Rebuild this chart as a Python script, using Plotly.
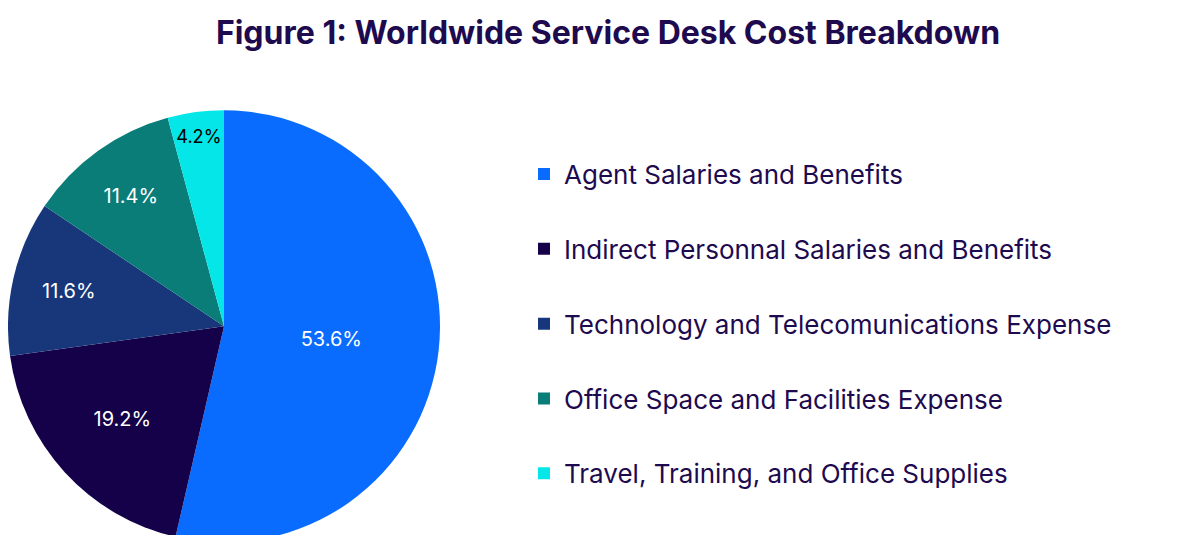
import plotly.graph_objects as go

# cost breakdown data
categories = ["Agent Salaries and Benefits",
              "Indirect Personnal Salaries and Benefits",
              "Technology and Telecomunications Expense",
              "Office Space and Facilities Expense",
              "Travel, Training, and Office Supplies"]
shares = [53.6, 19.2, 11.6, 11.4, 4.2]
labels_txt = ["53.6%", "19.2%", "11.6%", "11.4%", "4.2%"]
colors = ["#0a6cff", "#15004a", "#17377a", "#0b7d78", "#05e6e8"]
text_colors = ["white", "white", "white", "white", "black"]

fig = go.Figure()

# the pie itself, legend drawn separately below
fig.add_trace(go.Pie(
    labels=categories, values=shares, text=labels_txt,
    textinfo="text", textposition="inside", insidetextorientation="horizontal",
    sort=False, direction="clockwise", rotation=0,
    marker=dict(colors=colors, line=dict(width=0)),
    textfont=dict(size=20, color=text_colors, family="Inter"),
    domain=dict(x=[0, 0.36], y=[0, 0.81]),
    showlegend=False, hoverinfo="label+percent"))

# dummy traces for a spaced legend
for i, (cat, col) in enumerate(zip(categories, colors)):
    fig.add_trace(go.Scatter(
        x=[None], y=[None], mode="markers", name=cat,
        marker=dict(symbol="square", size=26, color=col),
        legendgroup=str(i), showlegend=True))

fig.update_xaxes(visible=False)
fig.update_yaxes(visible=False)
fig.update_layout(
    width=1200, height=535,
    paper_bgcolor="white", plot_bgcolor="white",
    margin=dict(l=0, r=0, t=0, b=0),
    title=dict(text="<b>Figure 1: Worldwide Service Desk Cost Breakdown</b>",
               x=0.5, xanchor="center", y=0.975, yanchor="top",
               font=dict(size=32, color="#1e0a4f", family="Inter")),
    legend=dict(x=0.43, y=0.41, xanchor="left", yanchor="middle",
                font=dict(size=26, color="#1e0a4f", family="Inter"),
                tracegroupgap=38, itemsizing="constant"),
)

fig.write_html("out.html")
